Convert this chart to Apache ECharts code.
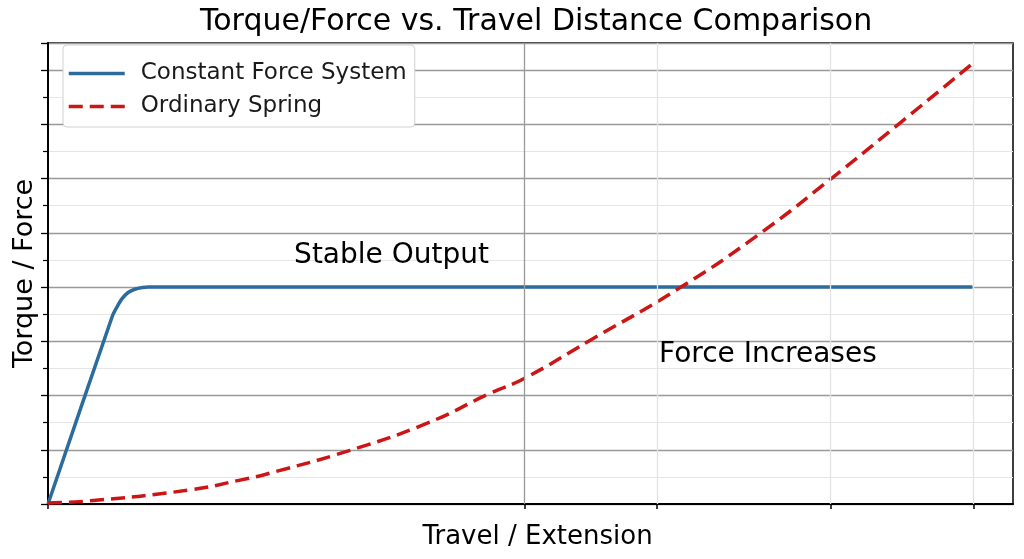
<!DOCTYPE html>
<html>
<head>
<meta charset="utf-8">
<script src="https://cdn.jsdelivr.net/npm/echarts@6/dist/echarts.min.js"></script>
<style>
  html, body { margin: 0; padding: 0; background: #fff; }
  #chart { width: 1024px; height: 559px; }
</style>
</head>
<body>
<div id="chart"></div>
<script>
// travel (percent of plot width) vs torque/force
const constantForce = [
  [0, 0], [6.7, 3.48], [7.2, 3.65], [7.7, 3.79], [8.3, 3.9],
  [9.0, 3.96], [9.8, 3.99], [10.4, 4.0], [95.8, 4.0]
];
const ordinarySpring = [
  [0, 0.02], [4.4, 0.06], [14.7, 0.26], [19.9, 0.44], [23.0, 0.57],
  [31.3, 0.99], [39.3, 1.49], [45.8, 2.04], [49.4, 2.32], [56.2, 3.02],
  [65.6, 4.0], [73.8, 4.99], [81.3, 6.02], [88.6, 7.07], [95.8, 8.12]
];
const xTicks = [0, 49.4, 63.1, 81.1, 95.9];
const xMajorLines = [49.4];
const xMinorLines = [63.1, 81.1, 95.9];
const notes = [
  { text: 'Stable Output', at: [35.6, 4.57] },
  { text: 'Force Increases', at: [74.6, 2.75] }
];

window.onload = function () {
  var chart = echarts.init(document.getElementById('chart'));
  const font = 'DejaVu Sans';

  var option = {
    animation: false,
    title: {
      text: 'Torque/Force vs. Travel Distance Comparison',
      left: 195,
      top: 2,
      textStyle: { fontFamily: font, fontSize: 30, fontWeight: 'normal', color: '#000' }
    },
    grid: {
      left: 48, right: 11, top: 43, bottom: 55,
      show: true, borderColor: '#000', borderWidth: 1.5
    },
    legend: {
      data: ['Constant Force System', 'Ordinary Spring'],
      orient: 'vertical',
      left: 63, top: 45,
      itemWidth: 56, itemHeight: 14, itemGap: 10,
      padding: [17, 8, 9, 4],
      backgroundColor: '#fff',
      borderColor: '#d0d0d0', borderWidth: 1, borderRadius: 4,
      lineStyle: { width: 3.5 },
      itemStyle: { opacity: 0 },
      textStyle: { fontFamily: font, fontSize: 23, color: '#1a1a1a', padding: [0, 0, 0, 11] }
    },
    xAxis: {
      type: 'value', min: 0, max: 100,
      name: 'Travel / Extension', nameLocation: 'middle', nameGap: 20,
      nameTextStyle: { fontFamily: font, fontSize: 26, color: '#000', padding: [0, 0, 0, 14] },
      axisLine: { lineStyle: { color: '#000', width: 2 } },
      axisTick: { show: true, customValues: xTicks, length: 5, lineStyle: { color: '#000', width: 1.5 } },
      axisLabel: { show: false },
      splitLine: { show: false }
    },
    yAxis: {
      type: 'value', min: 0, max: 8.5, interval: 1,
      name: 'Torque / Force', nameLocation: 'middle', nameGap: 10,
      nameTextStyle: { fontFamily: font, fontSize: 27, color: '#000' },
      axisLine: { lineStyle: { color: '#000', width: 2 } },
      axisTick: { length: 7, lineStyle: { color: '#000', width: 1.3 } },
      minorTick: { show: true, splitNumber: 2, length: 5, lineStyle: { color: '#000', width: 1.2 } },
      axisLabel: { show: false },
      splitLine: { show: true, lineStyle: { color: '#999', width: 1.3 } },
      minorSplitLine: { show: true, lineStyle: { color: '#e6e6e6', width: 1.2 } }
    },
    series: [
      {
        name: 'grid-x',
        type: 'line',
        data: [],
        z: 1,
        silent: true,
        markLine: {
          silent: true,
          symbol: 'none',
          label: { show: false },
          data: xMajorLines.map(v => ({ xAxis: v, lineStyle: { color: '#999', width: 1.3, type: 'solid' } }))
            .concat(xMinorLines.map(v => ({ xAxis: v, lineStyle: { color: '#e3e3e3', width: 1.3, type: 'solid' } })))
        }
      },
      {
        name: 'Constant Force System',
        type: 'line',
        data: constantForce,
        symbol: 'none',
        smooth: 0.2,
        color: '#2c6c9c',
        lineStyle: { color: '#2c6c9c', width: 3.5 },
        z: 3
      },
      {
        name: 'Ordinary Spring',
        type: 'line',
        data: ordinarySpring,
        symbol: 'none',
        smooth: 0.5,
        color: '#cc1616',
        lineStyle: { color: '#cc1616', width: 3.5, type: [14, 7] },
        z: 4
      },
      {
        name: 'notes',
        type: 'scatter',
        silent: true,
        symbolSize: 1,
        itemStyle: { color: '#fff', opacity: 0 },
        data: notes.map(n => ({ name: n.text, value: n.at })),
        label: {
          show: true,
          position: 'inside',
          formatter: p => p.name,
          fontFamily: font, fontSize: 28, color: '#000', opacity: 1,
          textBorderWidth: 0
        },
        z: 5
      }
    ]
  };

  chart.setOption(option);
};
</script>
</body>
</html>
